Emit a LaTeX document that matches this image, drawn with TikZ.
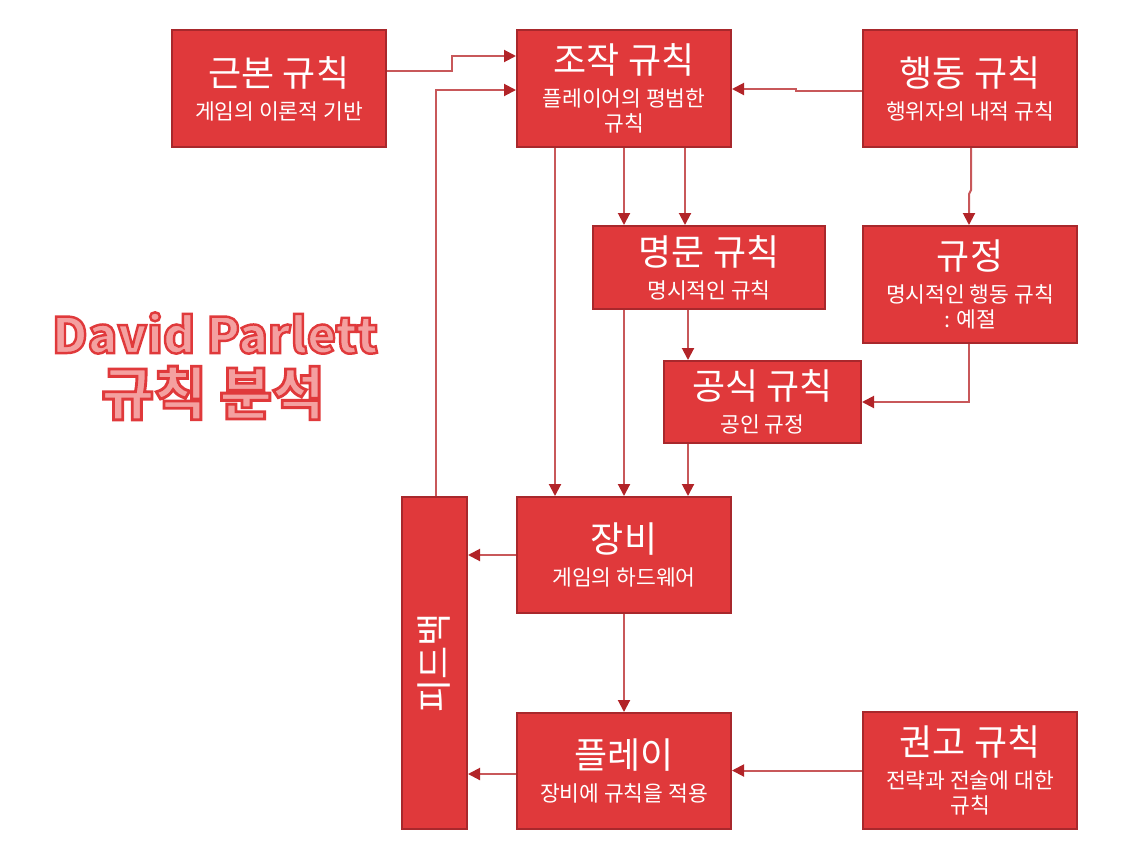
\documentclass[tikz,border=0pt]{standalone}
\usepackage{fontspec}
\setmainfont{Noto Sans CJK KR}
\newfontfamily\ttlfont{Noto Sans CJK KR}[FakeBold=5]
\usetikzlibrary{arrows.meta,calc}
\definecolor{boxfill}{HTML}{E0393B}
\definecolor{boxline}{HTML}{A8282C}
\definecolor{conncol}{HTML}{C8585A}
\definecolor{tipcol}{HTML}{B22428}
\definecolor{titlepink}{HTML}{F4A0A0}
\newcommand{\bt}[1]{{\fontsize{36}{40}\selectfont #1}\\[8pt]}
\newcommand{\redstroke}{\special{pdf:code 0.878 0.224 0.231 RG}}
\tikzset{
  rbox/.style={draw=boxline, line width=2pt, fill=boxfill, text=white, align=center,
    inner sep=0pt, minimum width=214pt, minimum height=117pt,
    font=\fontsize{21.5}{25}\selectfont},
  conn/.style={draw=conncol, line width=2pt, -{Triangle[length=12pt,width=12pt,color=tipcol]}},
  ttl/.style={text=titlepink}
}
\begin{document}
\begin{tikzpicture}[x=1pt,y=-1pt]
\useasboundingbox (0,0) rectangle (1148,860);
% boxes
\node[rbox] (gb) at (279,88.5) {\bt{근본 규칙}게임의 이론적 기반};
\node[rbox] (cz) at (624,88.5) {\bt{조작 규칙}플레이어의 평범한\\규칙};
\node[rbox] (hd) at (970,88.5) {\bt{행동 규칙}행위자의 내적 규칙};
\node[rbox, minimum width=232pt, minimum height=83pt] (mm) at (709,267.5) {\bt{명문 규칙}명시적인 규칙};
\node[rbox] (gj) at (970,284.5) {\bt{규정}명시적인 행동 규칙\\: 예절};
\node[rbox, minimum width=197pt, minimum height=82pt] (gs) at (762.5,402) {\bt{공식 규칙}공인 규정};
\node[rbox, minimum height=116pt] (jb) at (624,555) {\bt{장비}게임의 하드웨어};
\node[rbox, minimum height=116pt] (pl) at (624,771) {\bt{플레이}장비에 규칙을 적용};
\node[rbox] (gk) at (970,770.5) {\bt{권고 규칙}전략과 전술에 대한\\규칙};
\node[rbox, minimum width=65pt, minimum height=332pt] (fb) at (434.5,663) {};
\node[text=white, rotate=90, font=\fontsize{36}{40}\selectfont] (fbt) at (fb.center) {피드백};
% title
\node[ttl, font=\ttlfont\bfseries\fontsize{49}{56}\selectfont] (t1) at (215,333) {\redstroke David Parlett};
\node[ttl, font=\ttlfont\bfseries\fontsize{57}{62}\selectfont] (t2) at (213,393) {\redstroke 규칙 분석};
% connectors
\draw[conn] ([yshift=17.5pt]gb.east) -- ++(65,0) |- ([yshift=32.5pt]cz.west);
\draw[conn] ([xshift=1.5pt]fb.north) |- ([yshift=-1.5pt]cz.west);
\draw[conn] ([yshift=-2.5pt]hd.west) -- ++(-66,0) -- ++(0,-2) -- ([yshift=-0.5pt]cz.east);
\draw[conn] (cz.south) -- (cz.south |- mm.north);
\draw[conn] ([xshift=61pt]cz.south) -- ([xshift=61pt]cz.south |- mm.north);
\draw[conn] ([xshift=-69pt]cz.south) -- ([xshift=-69pt]jb.north);
\draw[conn] (mm.south -| jb.north) -- (jb.north);
\draw[conn] ([xshift=-21pt]mm.south) -- ([xshift=-21pt]mm.south |- gs.north);
\draw[conn] ([xshift=-74.5pt]gs.south) -- ([xshift=-74.5pt]gs.south |- jb.north);
\draw[conn] ([xshift=1pt]hd.south) -- ++(0,42) -- ++(-2,4) -- ([xshift=-1pt]gj.north);
\draw[conn] ([xshift=-1pt]gj.south) |- (gs.east);
\draw[conn] (jb.west) -- (jb.west -| fb.east);
\draw[conn] (jb.south) -- (pl.north);
\draw[conn] (gk.west) -- (gk.west -| pl.east);
\draw[conn] ([yshift=-3pt]pl.west) -- ([yshift=-3pt]pl.west -| fb.east);
\end{tikzpicture}
\end{document}
